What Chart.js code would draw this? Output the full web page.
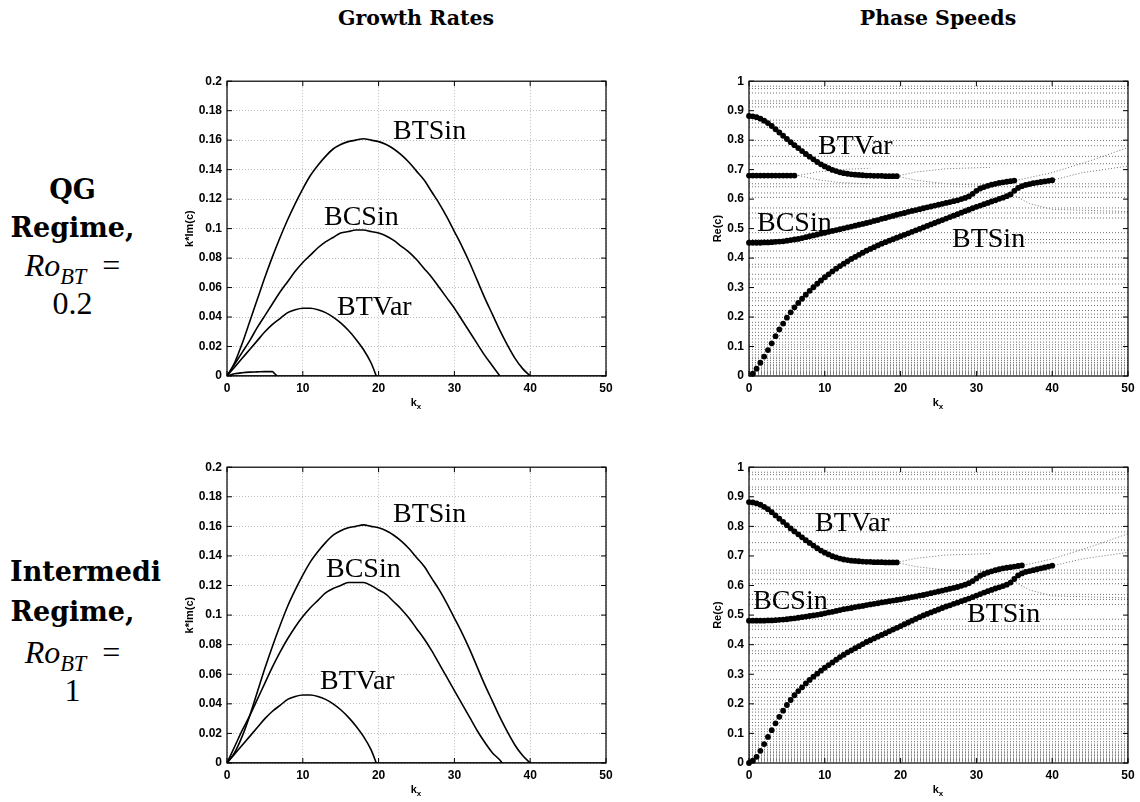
<!DOCTYPE html>
<html>
<head>
<meta charset="utf-8">
<script src="https://cdn.jsdelivr.net/npm/chart.js@4.4.1/dist/chart.umd.min.js"></script>
<style>
  body { margin: 0; background: #fff; width: 1140px; height: 802px; position: relative; overflow: hidden; }
  .abs { position: absolute; }
  canvas { position: absolute; }
  .title { font-family: 'DejaVu Serif'; font-weight: bold; font-size: 20.5px; width: 400px; text-align: center; line-height: 24px; }
  .row { font-family: 'DejaVu Serif'; font-weight: bold; font-size: 27px; line-height: 30px; width: 125px; text-align: center; left: 10px; white-space: nowrap; }
  .math { font-family: 'Liberation Serif'; font-weight: normal; font-size: 32px; }
  .math sub { font-style: italic; font-size: 0.7em; vertical-align: -0.35em; line-height: 0; }
  .math .eq { margin-left: 0.5em; }
  .tag { font-family: 'Liberation Serif'; font-size: 28px; line-height: 1; white-space: nowrap; }
  .kx { font-family: 'Liberation Sans'; font-weight: bold; font-size: 11px; width: 40px; text-align: center; line-height: 14px; }
  .kx sub { font-size: 8px; vertical-align: -3px; line-height: 0; }
</style>
</head>
<body>
<div class="abs title" style="left:216px; top:6px;">Growth Rates</div>
<div class="abs title" style="left:738px; top:6px;">Phase Speeds</div>

<div class="abs row" style="top:175px;">QG</div>
<div class="abs row" style="top:213px;">Regime,</div>
<div class="abs row math" style="top:250px;"><i>Ro</i><sub>BT</sub><span class="eq">=</span></div>
<div class="abs row math" style="top:288px;">0.2</div>

<div class="abs row" style="top:557px; text-align:left;">Intermedi</div>
<div class="abs row" style="top:597px;">Regime,</div>
<div class="abs row math" style="top:637px;"><i>Ro</i><sub>BT</sub><span class="eq">=</span></div>
<div class="abs row math" style="top:675px;">1</div>

<canvas id="gQG" width="448" height="347" style="left:180px; top:69px;"></canvas>
<canvas id="pQG" width="448" height="347" style="left:702px; top:69px;"></canvas>
<canvas id="gInt" width="448" height="348" style="left:180px; top:455px;"></canvas>
<canvas id="pInt" width="448" height="348" style="left:702px; top:455px;"></canvas>

<div class="abs kx" style="left:396px; top:395px;">k<sub>x</sub></div>
<div class="abs kx" style="left:918px; top:395px;">k<sub>x</sub></div>
<div class="abs kx" style="left:396px; top:782px;">k<sub>x</sub></div>
<div class="abs kx" style="left:918px; top:782px;">k<sub>x</sub></div>

<div class="abs tag" style="left:393px; top:116px;">BTSin</div>
<div class="abs tag" style="left:324px; top:202px;">BCSin</div>
<div class="abs tag" style="left:337px; top:292px;">BTVar</div>
<div class="abs tag" style="left:393px; top:499px;">BTSin</div>
<div class="abs tag" style="left:326px; top:554px;">BCSin</div>
<div class="abs tag" style="left:320px; top:666px;">BTVar</div>
<div class="abs tag" style="left:818px; top:131px;">BTVar</div>
<div class="abs tag" style="left:757px; top:208px;">BCSin</div>
<div class="abs tag" style="left:952px; top:224px;">BTSin</div>
<div class="abs tag" style="left:815px; top:508px;">BTVar</div>
<div class="abs tag" style="left:753px; top:586px;">BCSin</div>
<div class="abs tag" style="left:967px; top:599px;">BTSin</div>

<script>
// wavenumbers
const kGrowth = [0,1,2,3,4,5,6,7,8,9,10,11,12,13,14,15,16,17,18,19,20,21,22,23,24,25,26,27,28,29,30,31,32,33,34,35,36,37,38,39,40];
const kHalf = [];
for (let k = 0; k <= 40; k += 0.5) kHalf.push(k);

// growth rates, k*Im(c)
const btSinGrowthQG = [0,0.009,0.022,0.037,0.052,0.067,0.081,0.094,0.106,0.117,0.127,0.136,0.143,0.149,0.154,0.157,0.159,0.160,0.161,0.160,0.159,0.157,0.154,0.150,0.145,0.139,0.133,0.125,0.117,0.108,0.098,0.088,0.077,0.065,0.053,0.042,0.031,0.021,0.012,0.005,0];
const bcSinGrowthQG = [0,0.008,0.016,0.024,0.033,0.041,0.049,0.057,0.064,0.071,0.077,0.082,0.087,0.091,0.094,0.097,0.098,0.099,0.099,0.098,0.097,0.095,0.092,0.088,0.084,0.079,0.073,0.067,0.060,0.053,0.046,0.038,0.030,0.022,0.014,0.007,0];
const btVarK = [0,1,2,3,4,5,6,7,8,9,10,11,12,13,14,15,16,17,18,19,19.7];
const btVarGrowth = [0,0.006,0.012,0.018,0.024,0.030,0.035,0.039,0.043,0.045,0.046,0.046,0.045,0.043,0.040,0.036,0.031,0.025,0.018,0.009,0];
const smallK = [0,1,2,3,4,5,6,6.3,6.6];
const smallGrowth = [0,0.0015,0.0022,0.0026,0.0028,0.003,0.003,0.0015,0];
const zeroK = [0,50];
const zeroGrowth = [0,0];

const btSinGrowthInt = [0,0.007,0.018,0.032,0.048,0.064,0.079,0.093,0.106,0.117,0.127,0.136,0.143,0.149,0.154,0.157,0.159,0.160,0.161,0.160,0.159,0.157,0.154,0.150,0.145,0.139,0.133,0.125,0.117,0.108,0.098,0.088,0.077,0.065,0.053,0.042,0.031,0.021,0.012,0.005,0];
const bcSinIntK = [0,1,2,3,4,5,6,7,8,9,10,11,12,13,14,15,16,17,18,19,20,21,22,23,24,25,26,27,28,29,30,31,32,33,34,35,36,36.3];
const bcSinGrowthInt = [0,0.011,0.022,0.032,0.043,0.054,0.065,0.075,0.084,0.092,0.099,0.105,0.110,0.115,0.118,0.120,0.122,0.122,0.122,0.120,0.117,0.114,0.109,0.104,0.098,0.091,0.084,0.076,0.067,0.058,0.049,0.040,0.031,0.022,0.014,0.007,0.002,0];

// phase speeds, Re(c), sampled every 0.5 in k
const btSinPhaseQG = [0.008,0.025,0.045,0.066,0.088,0.111,0.135,0.158,0.178,0.198,
  0.216,0.233,0.248,0.262,0.276,0.289,0.301,0.313,0.324,0.335,
  0.345,0.355,0.364,0.373,0.381,0.389,0.397,0.404,0.411,0.418,
  0.425,0.431,0.437,0.443,0.449,0.454,0.459,0.464,0.469,0.474,
  0.479,0.484,0.489,0.494,0.499,0.504,0.509,0.514,0.519,0.524,
  0.529,0.534,0.539,0.544,0.549,0.554,0.559,0.564,0.569,0.574,
  0.578,0.583,0.587,0.592,0.596,0.601,0.605,0.610,0.616,0.628,
  0.638,0.644,0.648,0.651,0.654,0.656,0.658,0.660,0.662,0.664];
const bcSinPhaseQG = [0.452,0.452,0.452,0.452,0.453,0.453,0.454,0.455,0.456,0.457,
  0.459,0.461,0.463,0.465,0.468,0.471,0.474,0.477,0.480,0.483,
  0.486,0.489,0.492,0.495,0.498,0.501,0.504,0.507,0.510,0.513,
  0.516,0.519,0.522,0.526,0.529,0.533,0.536,0.540,0.543,0.547,
  0.550,0.553,0.557,0.560,0.563,0.566,0.569,0.572,0.575,0.578,
  0.581,0.584,0.587,0.590,0.593,0.596,0.600,0.604,0.609,0.618,
  0.628,0.636,0.641,0.645,0.649,0.652,0.655,0.657,0.659,0.661,
  0.663];
const btVarPhase = [0.882,0.881,0.878,0.873,0.866,0.858,0.848,0.837,0.826,0.815,
  0.804,0.793,0.783,0.773,0.763,0.753,0.744,0.735,0.726,0.718,
  0.711,0.705,0.699,0.695,0.691,0.688,0.686,0.684,0.683,0.682,
  0.681,0.680,0.680,0.679,0.679,0.679,0.678,0.678,0.678,0.678];
const flatPhaseQG = [0.68,0.68,0.68,0.68,0.68,0.68,0.68,0.68,0.68,0.68,0.68,0.68,0.68];

const btSinPhaseInt = [0,0.008,0.021,0.041,0.064,0.088,0.111,0.134,0.156,0.177,
  0.196,0.213,0.229,0.243,0.256,0.269,0.281,0.292,0.302,0.312,
  0.322,0.331,0.340,0.349,0.358,0.366,0.374,0.381,0.388,0.395,
  0.402,0.409,0.415,0.421,0.427,0.433,0.439,0.445,0.451,0.457,
  0.463,0.469,0.475,0.481,0.487,0.493,0.499,0.504,0.509,0.514,
  0.519,0.524,0.529,0.533,0.538,0.542,0.547,0.551,0.556,0.561,
  0.566,0.571,0.576,0.581,0.585,0.590,0.594,0.598,0.603,0.610,
  0.622,0.634,0.641,0.646,0.649,0.652,0.655,0.658,0.661,0.664,
  0.667];
const bcSinPhaseInt = [0.481,0.481,0.481,0.481,0.481,0.482,0.482,0.483,0.484,0.485,
  0.486,0.488,0.489,0.491,0.493,0.495,0.497,0.499,0.501,0.503,
  0.506,0.509,0.511,0.514,0.517,0.520,0.522,0.524,0.527,0.529,
  0.531,0.534,0.536,0.538,0.540,0.543,0.545,0.547,0.549,0.551,
  0.553,0.556,0.558,0.561,0.563,0.566,0.568,0.571,0.574,0.577,
  0.580,0.583,0.586,0.589,0.592,0.595,0.599,0.603,0.608,0.615,
  0.624,0.633,0.639,0.644,0.648,0.652,0.655,0.658,0.660,0.662,
  0.664,0.666,0.668];

// neutral (stable) modes: nearly flat Re(c) levels
const neutralLevels = [0.004,0.008,0.012,0.016,0.020,0.025,0.030,0.035,0.040,0.046,0.053,0.059,0.064,0.072,0.081,0.090,0.098,0.106,0.115,0.126,0.137,0.148,0.160,0.172,0.182,0.199,0.210,0.222,0.239,0.255,0.265,0.283,0.312,0.329,0.345,0.370,0.379,0.401,0.424,0.452,0.463,0.486,0.536,0.553,0.570,0.606,0.621,0.642,0.652,0.720,0.745,0.781,0.799,0.844,0.858,0.868,0.913,0.925,0.933,0.960,0.975,0.983];
// branches splitting off where unstable modes end (null = new branch)
const splitQGK = [6.5,9,12,16,null,6.5,9,12,16,null,19.5,22,26,32,null,19.5,22,26,32,null,34.5,37,40,50,null,35.2,40,45,50,null,40,44,50];
const splitQGV = [0.68,0.692,0.70,0.705,null,0.68,0.666,0.656,0.652,null,0.678,0.692,0.703,0.708,null,0.678,0.664,0.652,0.646,null,0.62,0.585,0.565,0.558,null,0.663,0.69,0.73,0.775,null,0.664,0.69,0.712];
const splitIntK = [19.5,22,26,32,null,19.5,22,26,32,null,34.5,37,40,50,null,36.2,40,45,50,null,40.3,44,50];
const splitIntV = [0.678,0.692,0.703,0.708,null,0.678,0.664,0.652,0.646,null,0.62,0.585,0.565,0.558,null,0.668,0.69,0.73,0.775,null,0.668,0.69,0.712];

const tickFont = { family: 'Liberation Sans', size: 12, weight: 'bold' };

const series = (ks, vs) => ks.map((k, i) => ({ x: k, y: vs[i] }));

const curve = (ks, vs) => ({
  data: series(ks, vs), borderColor: '#000', borderWidth: 1.6, pointRadius: 0,
  cubicInterpolationMode: 'monotone', fill: false
});
const dots = (ks, vs) => ({
  data: series(ks, vs), showLine: false, pointRadius: 2.9, pointBackgroundColor: '#000',
  pointBorderWidth: 0, clip: 4
});
const faint = (ks, vs) => ({
  data: series(ks, vs), borderColor: '#707070', borderWidth: 1, borderDash: [1, 2], pointRadius: 0
});

function faintSegments(ks, vs) {
  const out = [];
  let sk = [], sv = [];
  ks.forEach((k, i) => {
    if (k === null) { out.push(faint(sk, sv)); sk = []; sv = []; }
    else { sk.push(k); sv.push(vs[i]); }
  });
  if (sk.length) out.push(faint(sk, sv));
  return out;
}

const levelLines = () => neutralLevels.map(v => faint(zeroK, [v, v]));

// axes box with inward ticks, matlab style
const boxPlugin = {
  id: 'box',
  afterDraw(chart) {
    const { ctx, chartArea: a, scales: { x, y } } = chart;
    ctx.save();
    ctx.strokeStyle = '#000';
    ctx.lineWidth = 1.2;
    ctx.strokeRect(a.left, a.top, a.right - a.left, a.bottom - a.top);
    ctx.lineWidth = 1;
    ctx.beginPath();
    x.ticks.forEach(t => {
      const px = x.getPixelForValue(t.value);
      ctx.moveTo(px, a.bottom); ctx.lineTo(px, a.bottom - 5);
      ctx.moveTo(px, a.top); ctx.lineTo(px, a.top + 5);
    });
    y.ticks.forEach(t => {
      const py = y.getPixelForValue(t.value);
      ctx.moveTo(a.left, py); ctx.lineTo(a.left + 5, py);
      ctx.moveTo(a.right, py); ctx.lineTo(a.right - 5, py);
    });
    ctx.stroke();
    ctx.restore();
  }
};

function makeChart(id, datasets, yMax, yStep, yTitle, titlePad, showGrid) {
  return new Chart(document.getElementById(id), {
    type: 'line',
    data: { datasets: datasets },
    options: {
      responsive: false,
      animation: false,
      events: [],
      layout: { padding: { top: 10, right: 22, left: 0, bottom: 0 } },
      plugins: { legend: { display: false }, tooltip: { enabled: false } },
      scales: {
        x: {
          type: 'linear', min: 0, max: 50,
          ticks: { stepSize: 10, font: tickFont, color: '#000', padding: 5, maxRotation: 0 },
          grid: { display: showGrid, color: '#bdbdbd', drawTicks: false },
          border: { display: false, dash: [1, 2] },
          afterFit: s => { s.height = 40; }
        },
        y: {
          type: 'linear', min: 0, max: yMax,
          ticks: { stepSize: yStep, font: tickFont, color: '#000', padding: 5,
            callback: v => String(+v.toFixed(2)) },
          grid: { display: showGrid, color: '#bdbdbd', drawTicks: false },
          border: { display: false, dash: [1, 2] },
          title: { display: true, text: yTitle, color: '#000',
            font: { family: 'Liberation Sans', size: 11, weight: 'bold' },
            padding: { top: titlePad, bottom: 0 } },
          afterFit: s => { s.width = 47; }
        }
      }
    },
    plugins: [boxPlugin]
  });
}

makeChart('gQG', [
  curve(kGrowth, btSinGrowthQG),
  curve(kGrowth.slice(0, 37), bcSinGrowthQG),
  curve(btVarK, btVarGrowth),
  curve(smallK, smallGrowth),
  curve(zeroK, zeroGrowth)
], 0.2, 0.02, 'k*Im(c)', 3, true);

makeChart('gInt', [
  curve(kGrowth, btSinGrowthInt),
  curve(bcSinIntK, bcSinGrowthInt),
  curve(btVarK, btVarGrowth),
  curve(zeroK, zeroGrowth)
], 0.2, 0.02, 'k*Im(c)', 3, true);

makeChart('pQG', [
  dots(kHalf.slice(0, 40), btVarPhase),
  dots(kHalf.slice(0, 13), flatPhaseQG),
  dots(kHalf.slice(0, 71), bcSinPhaseQG),
  dots(kHalf.slice(1), btSinPhaseQG),
  ...faintSegments(splitQGK, splitQGV),
  ...levelLines()
], 1, 0.1, 'Re(c)', 9, false);

makeChart('pInt', [
  dots(kHalf.slice(0, 40), btVarPhase),
  dots(kHalf.slice(0, 73), bcSinPhaseInt),
  dots(kHalf, btSinPhaseInt),
  ...faintSegments(splitIntK, splitIntV),
  ...levelLines()
], 1, 0.1, 'Re(c)', 9, false);
</script>
</body>
</html>
